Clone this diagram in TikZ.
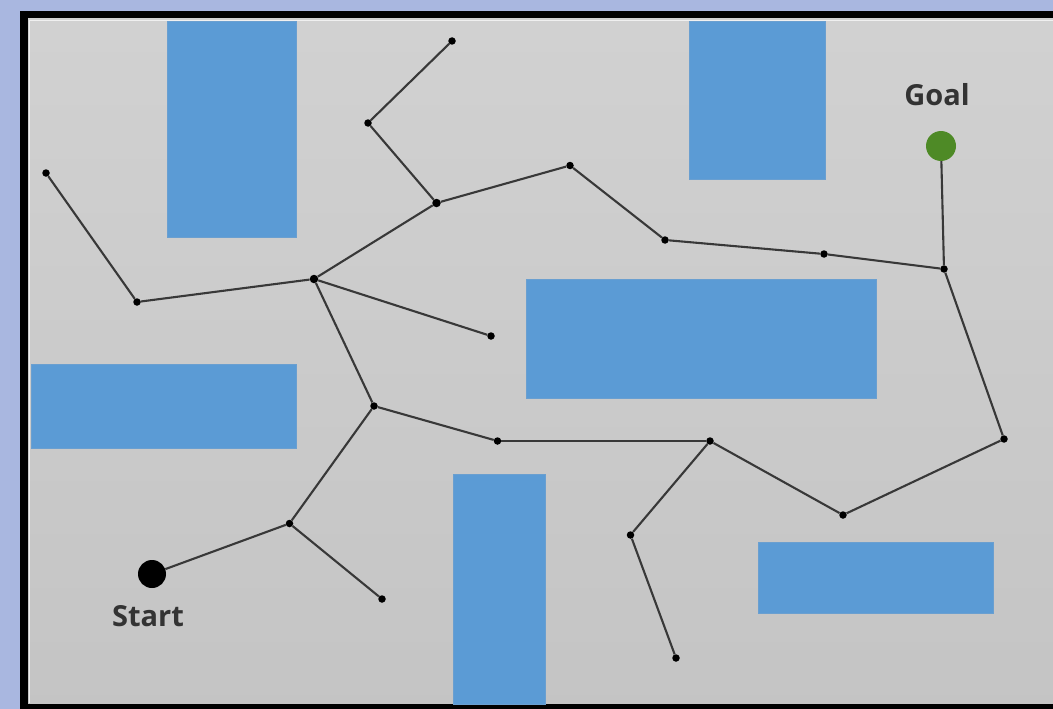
\documentclass[tikz,border=0pt]{standalone}
\usepackage{fontspec}
\setmainfont{Open Sans}
\definecolor{bgblue}{HTML}{A9B7E0}
\definecolor{obstblue}{HTML}{5B9BD5}
\definecolor{obstedge}{HTML}{6A9FD0}
\definecolor{linkgray}{HTML}{383838}
\definecolor{goalgreen}{HTML}{4E8A26}
\definecolor{txtgray}{HTML}{333333}
\tikzset{
  vtx/.style={circle,fill=black,inner sep=0pt,minimum size=7.5pt},
  link/.style={draw=linkgray,line width=2.1pt},
  obst/.style={fill=obstblue,draw=obstedge,line width=0.6pt},
  lbl/.style={font=\fontsize{29}{32}\selectfont\bfseries,text=txtgray,inner sep=0pt}
}
\begin{document}
\begin{tikzpicture}[x=1pt,y=-1pt]
\useasboundingbox (0,0) rectangle (1053,709);
% background
\fill[bgblue] (0,0) rectangle (1053,709);
\fill[black] (20,11) rectangle (1060,715);
\shade[top color=black!18,bottom color=black!23] (28,19) rectangle (1060,703);
\draw[white!88!gray,line width=1.5pt] (29.5,703) -- (29.5,20.5) -- (1060,20.5);
% obstacles
\path[obst] (167,21) rectangle (296,237);
\path[obst] (689,21) rectangle (825,179);
\path[obst] (526,279) rectangle (876,398);
\path[obst] (31,364) rectangle (296,448);
\path[obst] (453,474) rectangle (545,704);
\path[obst] (758,542) rectangle (993,613);
% vertices
\node[vtx] (A) at (452,41) {};
\node[vtx] (B) at (368,123) {};
\node[vtx,minimum size=8.5pt] (C) at (436.5,203) {};
\node[vtx] (D) at (570,165.5) {};
\node[vtx] (E) at (665,240) {};
\node[vtx] (F) at (824,254) {};
\node[vtx] (G) at (944,269) {};
\node[vtx] (H) at (46,173) {};
\node[vtx] (I) at (137,302) {};
\node[vtx,minimum size=8.5pt] (J) at (314,279) {};
\node[vtx] (K) at (491,336) {};
\node[vtx] (L) at (374,406) {};
\node[vtx] (M) at (497.5,441) {};
\node[vtx] (N) at (710,441) {};
\node[vtx] (O) at (843,515) {};
\node[vtx] (P) at (1004,439) {};
\node[vtx] (Q) at (630.5,535) {};
\node[vtx] (R) at (676,658) {};
\node[vtx] (S) at (289.5,523.5) {};
\node[vtx] (T) at (382,599) {};
\node[circle,fill=goalgreen,inner sep=0pt,minimum size=30pt] (goal) at (941,146) {};
\node[circle,fill=black,inner sep=0pt,minimum size=28pt] (start) at (152,574) {};
% links
\draw[link] (A) -- (B);
\draw[link] (B) -- (C);
\draw[link] (C) -- (D);
\draw[link] (D) -- (E);
\draw[link] (E) -- (F);
\draw[link] (F) -- (G);
\draw[link] (G) -- (goal);
\draw[link] (C) -- (J);
\draw[link] (H) -- (I);
\draw[link] (I) -- (J);
\draw[link] (J) -- (K);
\draw[link] (J) -- (L);
\draw[link] (L) -- (M);
\draw[link] (M) -- (N);
\draw[link] (N) -- (O);
\draw[link] (O) -- (P);
\draw[link] (P) -- (G);
\draw[link] (N) -- (Q);
\draw[link] (Q) -- (R);
\draw[link] (L) -- (S);
\draw[link] (S) -- (start);
\draw[link] (S) -- (T);
% labels
\node[lbl] (goallbl) at (937,95) {Goal};
\node[lbl] (startlbl) at (148,616) {Start};
\end{tikzpicture}
\end{document}
